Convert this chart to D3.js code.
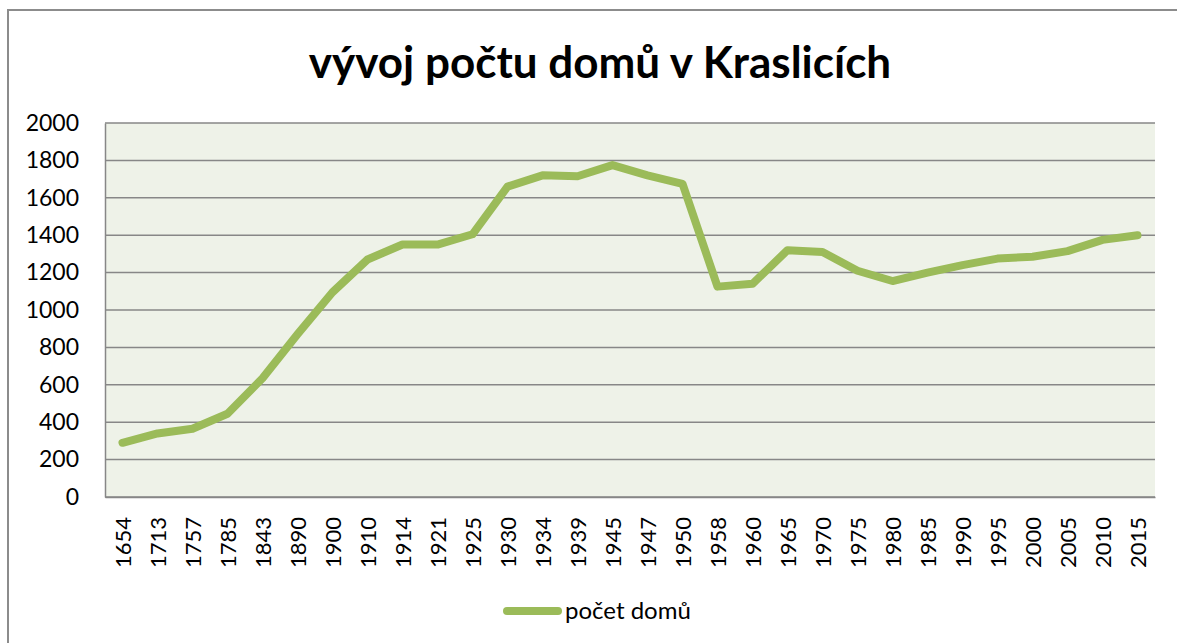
<!DOCTYPE html>
<html>
<head>
<meta charset="utf-8">
<script src="https://cdn.jsdelivr.net/npm/d3@7"></script>
<style>
  html, body { margin: 0; padding: 0; background: #ffffff; }
  svg { display: block; }
  text { font-family: Lato, "Open Sans", "DejaVu Sans", sans-serif; fill: #000; }
</style>
</head>
<body>
<svg id="chart" width="1177" height="643"></svg>
<script>
// Počet domů v Kraslicích podle let sčítání
const years = ["1654","1713","1757","1785","1843","1890","1900","1910","1914","1921",
               "1925","1930","1934","1939","1945","1947","1950","1958","1960","1965",
               "1970","1975","1980","1985","1990","1995","2000","2005","2010","2015"];
const houses = [290, 340, 365, 445, 635, 870, 1095, 1270, 1350, 1350,
                1405, 1660, 1720, 1715, 1775, 1720, 1675, 1125, 1140, 1320,
                1310, 1210, 1155, 1200, 1240, 1275, 1285, 1315, 1375, 1400];
const yTicks = [0, 200, 400, 600, 800, 1000, 1200, 1400, 1600, 1800, 2000];
const titleText = "vývoj počtu domů v Kraslicích";
const seriesName = "počet domů";

const W = 1177, H = 643;
const plot = { left: 105, right: 1155, top: 123, bottom: 497 };
const green = "#9bbb59";
const gridColor = "#878787";

const svg = d3.select("#chart");

// outer chart frame
svg.append("rect")
  .attr("x", 8).attr("y", 10)
  .attr("width", W + 20).attr("height", H + 20)
  .attr("fill", "#fff")
  .attr("stroke", "#8c8c8c").attr("stroke-width", 2);

const x = d3.scalePoint().domain(years).range([plot.left, plot.right]).padding(0.5);
const y = d3.scaleLinear().domain([0, 2000]).range([plot.bottom, plot.top]);

// plot background
svg.append("rect")
  .attr("x", plot.left).attr("y", plot.top)
  .attr("width", plot.right - plot.left).attr("height", plot.bottom - plot.top)
  .attr("fill", "#eef2e8");

// horizontal gridlines
svg.append("g").selectAll("line").data(yTicks).join("line")
  .attr("x1", plot.left).attr("x2", plot.right)
  .attr("y1", d => y(d)).attr("y2", d => y(d))
  .attr("stroke", gridColor).attr("stroke-width", 1.5);

// y axis
const yAxis = svg.append("g")
  .attr("transform", `translate(${plot.left},0)`)
  .call(d3.axisLeft(y).tickValues(yTicks).tickSize(0).tickPadding(26).tickFormat(d3.format("d")));
yAxis.select(".domain").attr("stroke", gridColor).attr("stroke-width", 1.5);
yAxis.selectAll("text")
  .attr("font-family", "Lato, 'Open Sans', sans-serif")
  .attr("font-size", 23).attr("fill", "#000");

// x axis with vertical labels
const xAxis = svg.append("g")
  .attr("transform", `translate(0,${plot.bottom})`)
  .call(d3.axisBottom(x).tickSize(0).tickPadding(0));
xAxis.select(".domain").attr("stroke", gridColor).attr("stroke-width", 1.5);
xAxis.selectAll("text")
  .attr("font-family", "Lato, 'Open Sans', sans-serif")
  .attr("font-size", 22).attr("fill", "#000")
  .attr("transform", "rotate(-90)")
  .attr("text-anchor", "end")
  .attr("x", -20).attr("y", 0).attr("dy", "0.35em");

// data line
const line = d3.line().x((d, i) => x(years[i])).y(d => y(d));
svg.append("path")
  .datum(houses)
  .attr("d", line)
  .attr("fill", "none")
  .attr("stroke", green)
  .attr("stroke-width", 8)
  .attr("stroke-linejoin", "round")
  .attr("stroke-linecap", "round");

// title
svg.append("text")
  .attr("x", 600).attr("y", 78)
  .attr("text-anchor", "middle")
  .attr("font-size", 44).attr("font-weight", "bold")
  .text(titleText);

// legend
const legend = svg.append("g");
legend.append("line")
  .attr("x1", 507).attr("x2", 558).attr("y1", 611).attr("y2", 611)
  .attr("stroke", green).attr("stroke-width", 8).attr("stroke-linecap", "round");
legend.append("text")
  .attr("x", 565).attr("y", 619)
  .attr("font-size", 24)
  .text(seriesName);
</script>
</body>
</html>
